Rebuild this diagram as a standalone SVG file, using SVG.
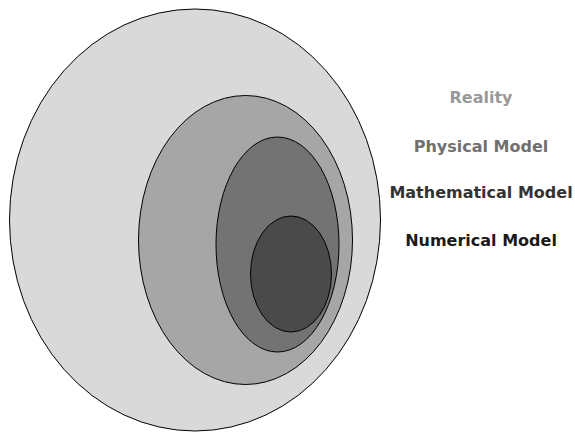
<svg xmlns="http://www.w3.org/2000/svg" width="575" height="434" viewBox="0 0 575 434">
<style>
.e{stroke:#000;stroke-width:1}
.t{font-family:"DejaVu Sans",sans-serif;font-weight:bold;font-size:16px;text-anchor:middle}
</style>
<rect width="575" height="434" fill="#fff"/>
<g id="reality"><ellipse class="e" cx="195" cy="220" rx="185.5" ry="211" fill="#d9d9d9"/></g>
<g id="physical"><ellipse class="e" cx="245.5" cy="240" rx="107" ry="144.5" fill="#a6a6a6"/></g>
<g id="mathematical"><ellipse class="e" cx="277.5" cy="244.5" rx="61.5" ry="107.5" fill="#737373"/></g>
<g id="numerical"><ellipse class="e" cx="291" cy="274" rx="40.5" ry="58" fill="#4a4a4a"/></g>
<g id="labels">
<text class="t" x="481" y="103" fill="#999999">Reality</text>
<text class="t" x="481" y="152" fill="#707070">Physical Model</text>
<text class="t" x="481" y="198" fill="#333333">Mathematical Model</text>
<text class="t" x="481" y="246" fill="#1a1a1a">Numerical Model</text>
</g>
</svg>
